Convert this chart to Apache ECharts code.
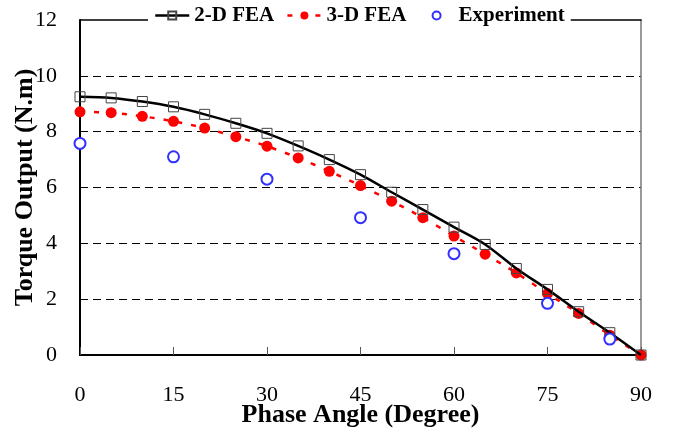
<!DOCTYPE html>
<html>
<head>
<meta charset="utf-8">
<script src="https://cdn.jsdelivr.net/npm/echarts@6/dist/echarts.min.js"></script>
<style>html,body{margin:0;padding:0;background:#fff}#c{width:673px;height:436px}</style>
</head>
<body>
<div id="c"></div>
<script>
var angles = [0,5,10,15,20,25,30,35,40,45,50,55,60,65,70,75,80,85,90];
var fea2D = [9.25,9.21,9.08,8.89,8.62,8.30,7.94,7.49,7.00,6.46,5.83,5.21,4.58,3.96,3.10,2.35,1.55,0.80,0];
var fea3D = [8.71,8.68,8.55,8.37,8.13,7.82,7.48,7.06,6.58,6.07,5.51,4.92,4.26,3.61,2.94,2.20,1.49,0.71,0];
var expAngles = [0,15,30,45,60,75,85];
var expTorque = [7.58,7.10,6.30,4.92,3.63,1.85,0.57];
var xTicks = {min:0, max:90, interval:15};
var yTicks = {min:0, max:12, interval:2};

function pairs(xs, ys){ return xs.map(function(x,i){ return [x, ys[i]]; }); }

var FONT = 'Liberation Serif';
var chart = echarts.init(document.getElementById('c'), null, {renderer:'canvas'});
chart.setOption({
  animation:false,
  backgroundColor:'#fff',
  grid:{left:80, right:32, top:20, bottom:81, containLabel:false, outerBoundsMode:'none'},
  legend:{
    left:148, top:5, padding:[0,6],
    backgroundColor:'#fff',
    itemWidth:34, itemHeight:10, itemGap:12,
    lineStyle:{width:2.5},
    textStyle:{fontFamily:FONT, fontWeight:'bold', fontSize:21, color:'#000'},
    data:['2-D FEA','3-D FEA','Experiment']
  },
  xAxis:[{
    type:'value', min:xTicks.min, max:xTicks.max, interval:xTicks.interval,
    name:'Phase Angle (Degree)', nameLocation:'middle', nameGap:47, nameMoveOverlap:false,
    nameTextStyle:{fontFamily:FONT, fontWeight:'bold', fontSize:26, color:'#000'},
    axisLine:{show:true, onZero:false, lineStyle:{color:'#000', width:2}},
    axisTick:{show:true, inside:true, length:8, lineStyle:{color:'#555', width:1}},
    axisLabel:{fontFamily:FONT, fontSize:22, color:'#000', margin:29},
    splitLine:{show:false}
  },{
    type:'value', position:'top', min:xTicks.min, max:xTicks.max,
    axisLine:{show:true, onZero:false, lineStyle:{color:'#000', width:1.5}},
    axisTick:{show:false}, axisLabel:{show:false}, splitLine:{show:false}
  }],
  yAxis:[{
    type:'value', min:yTicks.min, max:yTicks.max, interval:yTicks.interval,
    name:'Torque Output (N.m)', nameLocation:'middle', nameGap:42, nameMoveOverlap:false,
    nameTextStyle:{fontFamily:FONT, fontWeight:'bold', fontSize:26, color:'#000'},
    axisLine:{show:true, onZero:false, lineStyle:{color:'#000', width:2}},
    axisTick:{show:false},
    axisLabel:{fontFamily:FONT, fontSize:22, color:'#000', margin:23},
    splitLine:{show:true, showMinLine:false, showMaxLine:false, lineStyle:{color:'#000', width:1, type:[8,5]}}
  },{
    type:'value', position:'right', min:yTicks.min, max:yTicks.max,
    axisLine:{show:true, onZero:false, lineStyle:{color:'#777', width:1.5}},
    axisTick:{show:false}, axisLabel:{show:false}, splitLine:{show:false}
  }],
  series:[{
    name:'3-D FEA', type:'line', smooth:0.3, z:2,
    data:pairs(angles, fea3D),
    symbol:'circle', symbolSize:11,
    itemStyle:{color:'#ff0000'},
    lineStyle:{color:'#ff0000', width:2.5, type:[5,9]}
  },{
    name:'2-D FEA', type:'line', smooth:0.3, z:3,
    data:pairs(angles, fea2D),
    symbol:'rect', symbolSize:10,
    itemStyle:{color:'rgba(255,255,255,0)', borderColor:'#444', borderWidth:1},
    lineStyle:{color:'#000', width:2.5}
  },{
    name:'Experiment', type:'line', z:4,
    data:pairs(expAngles, expTorque),
    symbol:'emptyCircle', symbolSize:11,
    itemStyle:{color:'#3030ff', borderColor:'#3030ff', borderWidth:1},
    lineStyle:{opacity:0}
  }]
});
</script>
</body>
</html>
